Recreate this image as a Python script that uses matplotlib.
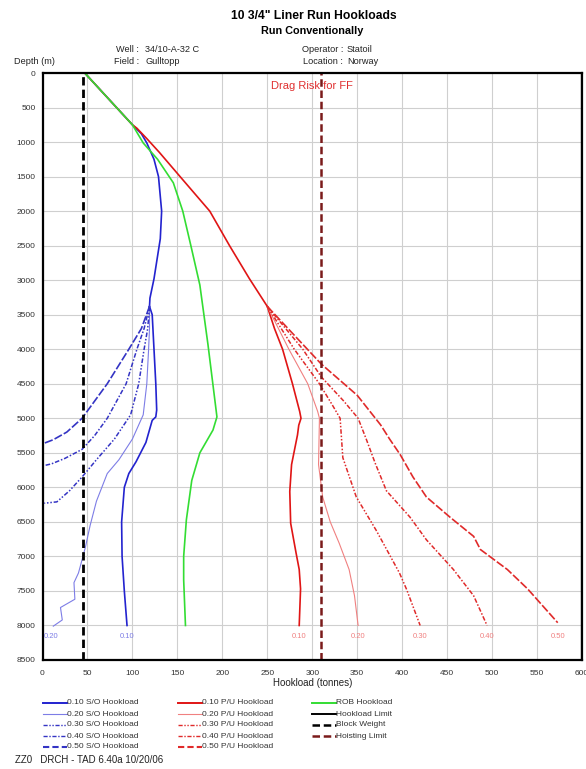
import matplotlib
matplotlib.use("Agg")
import matplotlib.pyplot as plt
from matplotlib.lines import Line2D

plt.rcParams['font.family'] = ['Liberation Sans', 'DejaVu Sans']

W, H = 586, 769

# ---------------- data (hookload tonnes, depth m) ----------------
common_x = [47, 100]
common_y = [0, 750]

so_upper_x = [100, 110, 116, 124, 129, 132.5, 131, 124, 119.5, 119]
so_upper_y = [750, 880, 1013, 1250, 1500, 2000, 2400, 2980, 3260, 3380]

so010_x = [119, 122, 124, 126, 127, 126, 122, 115, 104, 96, 91, 88, 88.5, 91, 94]
so010_y = [3380, 3500, 4000, 4500, 4880, 4980, 5030, 5350, 5630, 5800, 6000, 6500, 7000, 7500, 8000]
so020_x = [119, 119, 118, 116, 112, 100, 85, 72, 60, 53, 48, 45, 40, 35, 36, 20, 22, 12]
so020_y = [3380, 3700, 4000, 4500, 4950, 5300, 5600, 5800, 6200, 6550, 6850, 7000, 7240, 7380, 7620, 7740, 7920, 8010]
so030_x = [119, 117, 113, 107, 98, 80, 60, 44, 30, 16, 2]
so030_y = [3380, 3700, 4000, 4500, 4950, 5300, 5600, 5850, 6050, 6210, 6230]
so040_x = [119, 113, 105, 93, 72, 58, 44, 25, 10, 0]
so040_y = [3380, 3700, 4000, 4500, 5000, 5250, 5450, 5580, 5660, 5690]
so050_x = [119, 110, 96, 84, 72, 58, 44, 27, 12, 0]
so050_y = [3380, 3700, 4000, 4250, 4500, 4750, 5000, 5200, 5310, 5370]

pu_upper_x = [100, 105, 116, 130, 153, 186, 208, 230, 250]
pu_upper_y = [750, 800, 950, 1150, 1500, 2000, 2500, 2976, 3380]

pu010_x = [250, 258, 267, 278, 286, 287.5, 285, 283.6, 277, 275, 276, 282, 285.5, 287, 285.5]
pu010_y = [3380, 3700, 4000, 4500, 4900, 5000, 5100, 5240, 5670, 6060, 6520, 6950, 7190, 7470, 8000]
pu020_x = [250, 274, 295, 306, 308, 307, 311.6, 320, 330, 341, 347, 351]
pu020_y = [3380, 4000, 4500, 4900, 5000, 5670, 6140, 6500, 6810, 7190, 7570, 8000]
pu030_x = [250, 280, 308, 322, 331, 334, 349, 371, 379, 397, 405, 420]
pu030_y = [3380, 4000, 4500, 4800, 5000, 5570, 6140, 6620, 6810, 7240, 7480, 8000]
pu040_x = [250, 289.5, 310, 335, 351, 360, 370, 382.5, 408.6, 427, 457, 479.5, 494.4]
pu040_y = [3380, 4000, 4400, 4750, 5000, 5300, 5650, 6050, 6430, 6760, 7190, 7570, 8000]
pu050_x = [250, 310, 350, 376, 386, 398, 412, 427, 453, 479.5, 487, 517, 539.5, 573]
pu050_y = [3380, 4214, 4667, 5095, 5300, 5530, 5850, 6140, 6430, 6710, 6900, 7190, 7470, 7960]

rob_x = [47, 100, 112, 128, 145.5, 156, 165, 175, 184, 194, 189.6, 175, 166, 160, 157, 157, 159]
rob_y = [0, 750, 1013, 1250, 1590, 2000, 2500, 3070, 3930, 4980, 5170, 5500, 5900, 6470, 7000, 7340, 8000]

block_weight = 45
hoisting_limit = 310
hookload_limit = 600

end_label_depth = 8160
so_labels = ["0.20", "0.10"]
so_label_x = [9, 94]
pu_labels = ["0.10", "0.20", "0.30", "0.40", "0.50"]
pu_label_x = [285.5, 351, 420, 494.4, 573]

x_ticks = list(range(0, 601, 50))
y_ticks = list(range(0, 8501, 500))

# ---------------- styles ----------------
BLUE = '#2323cf'
BLUE_L = '#7d7de6'
BLUE_D = '#3434c4'
RED = '#e01515'
RED_L = '#f08080'
RED_D = '#e02a2a'
GREEN = '#33dd33'
MAROON = '#7a1a1a'
ls30 = (0, (3, 1.2, 1, 1.2, 1, 1.2))
ls40 = (0, (3, 1.2, 1, 1.2))
ls50 = (0, (5, 1.3))

fig = plt.figure(figsize=(W / 100, H / 100), dpi=100)
ax = fig.add_axes([42.5 / W, 1 - 660 / H, (582 - 42.5) / W, (660 - 73) / H])

ax.set_xlim(0, 600)
ax.set_ylim(8500, 0)
ax.set_xticks(x_ticks)
ax.set_yticks(y_ticks)
ax.grid(True, color='#cfcfcf', lw=0.8)
ax.set_axisbelow(True)
ax.tick_params(length=0, labelsize=6, labelcolor='#333333')
ax.tick_params(axis='x', pad=7)
ax.tick_params(axis='y', pad=5)
for s in ax.spines.values():
    s.set_linewidth(1.6)
    s.set_color('black')

def both(xa, ya, xb, yb):
    return xa + xb, ya + yb

# S/O curves
ux, uy = both(common_x, common_y, so_upper_x, so_upper_y)
ax.plot(ux, uy, color=BLUE, lw=1.2)
ax.plot(so010_x, so010_y, color=BLUE, lw=1.2)
ax.plot(so020_x, so020_y, color=BLUE_L, lw=0.8)
ax.plot(so030_x, so030_y, color=BLUE_D, lw=1.1, ls=ls30)
ax.plot(so040_x, so040_y, color=BLUE_D, lw=1.1, ls=ls40)
ax.plot(so050_x, so050_y, color=BLUE_D, lw=1.2, ls=ls50)

# P/U curves
px_, py_ = both(common_x, common_y, pu_upper_x, pu_upper_y)
ax.plot(px_, py_, color=RED, lw=1.2)
ax.plot(pu010_x, pu010_y, color=RED, lw=1.2)
ax.plot(pu020_x, pu020_y, color=RED_L, lw=0.8)
ax.plot(pu030_x, pu030_y, color=RED_D, lw=1.1, ls=ls30)
ax.plot(pu040_x, pu040_y, color=RED_D, lw=1.1, ls=ls40)
ax.plot(pu050_x, pu050_y, color=RED_D, lw=1.2, ls=ls50)

# ROB
ax.plot(rob_x, rob_y, color=GREEN, lw=1.2)

# limits
ax.axvline(block_weight, color='black', lw=2.0, ls=(0, (3, 1.5)))
ax.axvline(hoisting_limit, color=MAROON, lw=1.8, ls=(0, (3, 1.5)))
ax.axvline(hookload_limit, color='black', lw=1.6)

ax.text(300, 190, "Drag Risk for FF", color='#e03030', fontsize=8, ha='center', va='center')

for lab, xv in zip(so_labels, so_label_x):
    ax.text(xv, end_label_depth, lab, color=BLUE_L, fontsize=5.5, ha='center', va='center')
for lab, xv in zip(pu_labels, pu_label_x):
    ax.text(xv, end_label_depth, lab, color=RED_L, fontsize=5.5, ha='center', va='center')

ax.set_xlabel("Hookload (tonnes)", fontsize=7, labelpad=1, color='#222222')

def ft(x, y, s, **kw):
    fig.text(x / W, 1 - y / H, s, **kw)

ft(314, 16, '10 3/4" Liner Run Hookloads', fontsize=8.7, fontweight='bold', ha='center', va='center')
ft(312, 31, 'Run Conventionally', fontsize=7.8, fontweight='bold', ha='center', va='center')
hs = 6.6
ft(139, 49, 'Well :', fontsize=hs, ha='right', va='center', color='#222222')
ft(145, 49, '34/10-A-32 C', fontsize=hs, ha='left', va='center', color='#222222')
ft(139, 61, 'Field :', fontsize=hs, ha='right', va='center', color='#222222')
ft(145, 61, 'Gulltopp', fontsize=hs, ha='left', va='center', color='#222222')
ft(343, 49, 'Operator :', fontsize=hs, ha='right', va='center', color='#222222')
ft(347, 49, 'Statoil', fontsize=hs, ha='left', va='center', color='#222222')
ft(343, 61, 'Location :', fontsize=hs, ha='right', va='center', color='#222222')
ft(347, 61, 'Norway', fontsize=hs, ha='left', va='center', color='#222222')
ft(14, 62, 'Depth (m)', fontsize=hs, ha='left', va='center', color='#222222')
ft(15, 760, 'ZZ0   DRCH - TAD 6.40a 10/20/06', fontsize=7, ha='left', va='center', color='#222222')

# legend (manual)
legend_entries = [
    [("0.10 S/O Hookload", BLUE, '-', 1.4), ("0.20 S/O Hookload", BLUE_L, '-', 0.8),
     ("0.30 S/O Hookload", BLUE_D, ls30, 1.0), ("0.40 S/O Hookload", BLUE_D, ls40, 1.0),
     ("0.50 S/O Hookload", BLUE_D, (0, (3, 1.5)), 1.5)],
    [("0.10 P/U Hookload", RED, '-', 1.4), ("0.20 P/U Hookload", RED_L, '-', 0.8),
     ("0.30 P/U Hookload", RED_D, ls30, 1.0), ("0.40 P/U Hookload", RED_D, ls40, 1.0),
     ("0.50 P/U Hookload", RED_D, (0, (3, 1.5)), 1.5)],
    [("ROB Hookload", GREEN, '-', 1.4), ("Hookload Limit", 'black', '-', 1.4),
     ("Block Weight", 'black', (0, (3, 1.5)), 1.8), ("Hoisting Limit", MAROON, (0, (3, 1.5)), 1.8)],
]
col_x = [43, 178, 312]
row_y = [703, 714, 725, 736, 747]
for cx, col in zip(col_x, legend_entries):
    for ry, (lab, c, ls, lw) in zip(row_y, col):
        fig.add_artist(Line2D([cx / W, (cx + 24) / W], [1 - ry / H, 1 - ry / H],
                              color=c, ls=ls, lw=lw, transform=fig.transFigure))
        ft(cx + 24, ry, lab, fontsize=6, color='#333333', ha='left', va='center')

fig.savefig("out.png", dpi=100)
